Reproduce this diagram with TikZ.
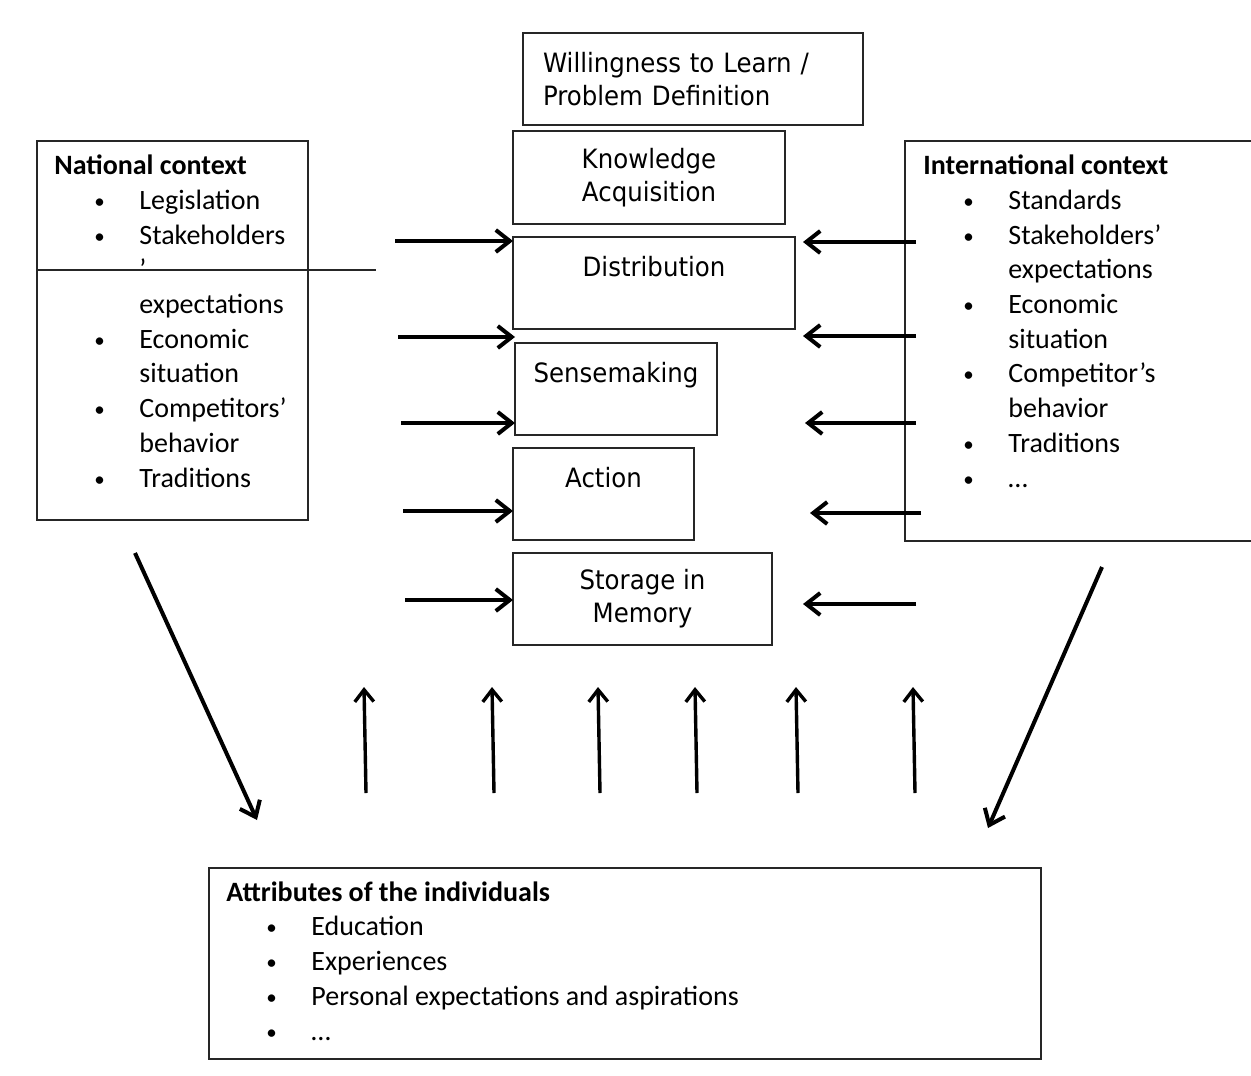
\documentclass[tikz,border=0pt]{standalone}
\usepackage{fontspec}
\setmainfont{Carlito}
\newfontfamily\tahoma[FakeStretch=0.92]{DejaVu Sans}
\usetikzlibrary{positioning, arrows.meta}
\newcommand{\ctxitem}{\hspace*{20pt}\makebox[22.5pt][l]{\raisebox{0.5pt}{\fontsize{10.5}{10}\selectfont\textbullet}}}
\newcommand{\ctxcont}{\hspace*{42.5pt}}

\begin{document}
\begin{tikzpicture}[x=0.5pt, y=-0.5pt,
    stage/.style = {draw=black!85, line width=0.9pt, minimum height=46pt,
                    inner sep=0pt, outer sep=0pt, align=center,
                    font=\tahoma\fontsize{13.3}{16.5}\selectfont},
    ctx/.style = {draw=black!85, line width=0.9pt, inner sep=0pt, anchor=north west},
    ctxtext/.style = {inner sep=0pt, align=left, anchor=base west,
                      font=\fontsize{14}{17.35}\selectfont},
    flow/.style = {line width=2pt, -{Straight Barb[length=7pt, width=11pt]}},
    rise/.style = {line width=1.7pt, -{Straight Barb[length=6pt, width=9.5pt]}}]
  \useasboundingbox (0,0) rectangle (1251,1075);

  % the learning process
  \node[stage, anchor=north west, minimum width=136pt, minimum height=46.5pt] (know) at (513,131) {Knowledge\\Acquisition};
  \node[stage, minimum width=170pt, text width=150pt, inner xsep=10pt, align=left] (will)
      [above=3pt of know.north west, anchor=south west, xshift=5pt] {Willingness to Learn /\\Problem Definition};
  \node[stage, minimum width=141pt] (dist) [below=6.5pt of know.south west, anchor=north west] {Distribution\\\mbox{}};
  \node[stage, minimum width=101pt] (sense) [below=7pt of dist.south west, anchor=north west, xshift=1pt] {Sensemaking\\\mbox{}};
  \node[stage, minimum width=90.5pt] (act) [below=6.5pt of sense.south west, anchor=north west, xshift=-1pt] {Action\\\mbox{}};
  \node[stage, minimum width=129.5pt] (store) [below=6.5pt of act.south west, anchor=north west] {Storage in\\Memory};

  % context boxes
  \node[ctx, minimum width=135.5pt, minimum height=189.5pt] (nat) at (36,140) {};
  \node[ctx, minimum width=175.5pt, minimum height=200pt] (intl) at (904,140) {};
  \node[ctx, minimum width=416pt, minimum height=95.5pt] (attr) at (208,867) {};

  % texts sit on the baseline of their last line
  \node[ctxtext] (nattext) at (54,487) {\textbf{National context}\\
      \ctxitem Legislation\\ \ctxitem Stakeholders\\ \ctxcont ’\\ \ctxcont expectations\\
      \ctxitem Economic\\ \ctxcont situation\\ \ctxitem Competitors’\\ \ctxcont behavior\\
      \ctxitem Traditions};
  \node[ctxtext] (intltext) at (923,487) {\textbf{International context}\\
      \ctxitem Standards\\ \ctxitem Stakeholders’\\ \ctxcont expectations\\
      \ctxitem Economic\\ \ctxcont situation\\ \ctxitem Competitor’s\\ \ctxcont behavior\\
      \ctxitem Traditions\\ \ctxitem \ldots};
  \node[ctxtext] (attrtext) at (226,1040) {\textbf{Attributes of the individuals}\\
      \ctxitem Education\\ \ctxitem Experiences\\ \ctxitem Personal expectations and aspirations\\
      \ctxitem \ldots};

  \coordinate (cut) at (376,270);
  \draw[line width=0.9pt, draw=black!85] (nat.west |- cut) -- (cut);

  % arrows from the national side
  \coordinate (l1) at (395,241);
  \coordinate (l2) at (398,337);
  \coordinate (l3) at (401,423);
  \coordinate (l4) at (403,511);
  \coordinate (l5) at (405,600);
  \draw[flow] (l1) -- (l1 -| dist.west);
  \draw[flow] (l2) -- (l2 -| sense.west);
  \draw[flow] (l3) -- (l3 -| sense.west);
  \draw[flow] (l4) -- (l4 -| act.west);
  \draw[flow] (l5) -- (l5 -| store.west);

  % arrows from the international side
  \coordinate (r1) at (916,242);  \coordinate (r1e) at (803,242);
  \coordinate (r2) at (916,336);  \coordinate (r2e) at (803,336);
  \coordinate (r3) at (916,423);  \coordinate (r3e) at (805,423);
  \coordinate (r4) at (921,513);  \coordinate (r4e) at (810,513);
  \coordinate (r5) at (916,604);  \coordinate (r5e) at (803,604);
  \draw[flow] (r1) -- (r1e);
  \draw[flow] (r2) -- (r2e);
  \draw[flow] (r3) -- (r3e);
  \draw[flow] (r4) -- (r4e);
  \draw[flow] (r5) -- (r5e);

  % contexts shape the individuals
  \coordinate (natout) at (135,553);  \coordinate (attrl) at (257,820);
  \coordinate (intlout) at (1102,567); \coordinate (attrr) at (988,828);
  \draw[flow] (natout) -- (attrl);
  \draw[flow] (intlout) -- (attrr);

  % individuals feed the process
  \coordinate (u1) at (366,793); \coordinate (u1e) at (364,687);
  \coordinate (u2) at (494,793); \coordinate (u2e) at (492,687);
  \coordinate (u3) at (600,793); \coordinate (u3e) at (598,687);
  \coordinate (u4) at (697,793); \coordinate (u4e) at (695,687);
  \coordinate (u5) at (798,793); \coordinate (u5e) at (796,687);
  \coordinate (u6) at (915,793); \coordinate (u6e) at (913,687);
  \draw[rise] (u1) -- (u1e);
  \draw[rise] (u2) -- (u2e);
  \draw[rise] (u3) -- (u3e);
  \draw[rise] (u4) -- (u4e);
  \draw[rise] (u5) -- (u5e);
  \draw[rise] (u6) -- (u6e);
\end{tikzpicture}
\end{document}
